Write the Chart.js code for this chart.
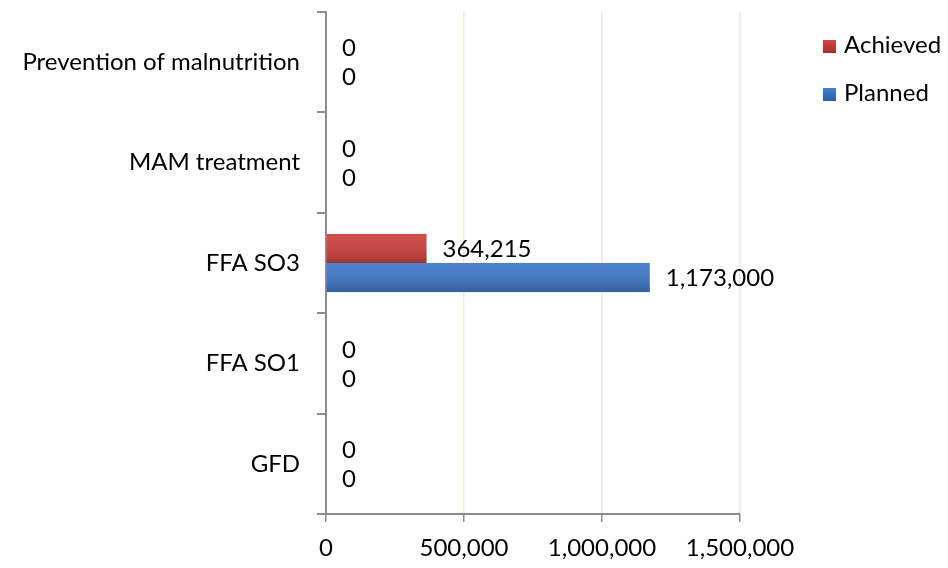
<!DOCTYPE html>
<html>
<head>
<meta charset="utf-8">
<script src="https://cdn.jsdelivr.net/npm/chart.js@4"></script>
<style>
  html, body { margin: 0; padding: 0; background: #fff; }
  #wrap { position: relative; width: 948px; height: 568px; }
  #legend { position: absolute; left: 823px; top: 28px; font-family: Lato, "Open Sans", sans-serif; font-size: 24px; color: #000; }
  #legend div { height: 48px; line-height: 32px; white-space: nowrap; }
  #legend span { display: inline-block; width: 13px; height: 13px; margin-right: 8px; vertical-align: 0px; }
</style>
</head>
<body>
<div id="wrap">
  <canvas id="c" width="948" height="568"></canvas>
  <div id="legend">
    <div><span style="background:linear-gradient(#d44643,#a22f2d)"></span>Achieved</div>
    <div><span style="background:linear-gradient(#4181d2,#2c5c9c)"></span>Planned</div>
  </div>
</div>
<script>
const categories = ['Prevention of malnutrition', 'MAM treatment', 'FFA SO3', 'FFA SO1', 'GFD'];
const achieved = [0, 0, 364215, 0, 0];
const planned = [0, 0, 1173000, 0, 0];
const xTicks = [0, 500000, 1000000, 1500000];

const FONT = 'Lato, "Open Sans", sans-serif';

// darken the lower part of each bar, like the original's shading
const barShading = {
  id: 'barShading',
  afterDatasetsDraw(chart) {
    const ctx = chart.ctx;
    ctx.save();
    chart.data.datasets.forEach((ds, di) => {
      chart.getDatasetMeta(di).data.forEach(bar => {
        const w = bar.x - bar.base;
        if (w <= 0) return;
        const top = bar.y - bar.height / 2;
        const g = ctx.createLinearGradient(0, top, 0, top + bar.height);
        g.addColorStop(0, 'rgba(255,255,255,0.06)');
        g.addColorStop(1, 'rgba(0,0,0,0.22)');
        ctx.fillStyle = g;
        ctx.fillRect(bar.base, top, w, bar.height);
      });
    });
    ctx.restore();
  }
};

const valueLabels = {
  id: 'valueLabels',
  afterDatasetsDraw(chart) {
    const ctx = chart.ctx;
    ctx.save();
    ctx.font = '24px ' + FONT;
    ctx.fillStyle = '#000';
    ctx.textAlign = 'left';
    ctx.textBaseline = 'middle';
    chart.data.datasets.forEach((ds, di) => {
      chart.getDatasetMeta(di).data.forEach((bar, i) => {
        ctx.fillText(ds.data[i].toLocaleString('en-US'), bar.x + 16, bar.y + 1);
      });
    });
    ctx.restore();
  }
};

new Chart(document.getElementById('c'), {
  type: 'bar',
  data: {
    labels: categories,
    datasets: [
      { label: 'Achieved', data: achieved, backgroundColor: '#cd403d' },
      { label: 'Planned', data: planned, backgroundColor: '#3d79c8' }
    ]
  },
  options: {
    indexAxis: 'y',
    responsive: false,
    animation: false,
    layout: { padding: { top: 12, right: 208, bottom: 0, left: 0 } },
    datasets: { bar: { barPercentage: 1, categoryPercentage: 0.58 } },
    plugins: { legend: { display: false }, tooltip: { enabled: false } },
    scales: {
      x: {
        min: 0,
        max: 1500000,
        afterBuildTicks(axis) { axis.ticks = xTicks.map(v => ({ value: v })); },
        afterFit(axis) { axis.height = 54; },
        border: { color: '#8c8c8c', width: 2 },
        grid: {
          color: ctx => ctx.index === 0 ? '#8c8c8c' : '#ece8d9',
          lineWidth: 1.5,
          tickColor: '#8c8c8c',
          tickLength: 8
        },
        ticks: {
          color: '#000',
          font: { family: FONT, size: 24 },
          padding: 12,
          maxRotation: 0,
          callback: v => v.toLocaleString('en-US')
        }
      },
      y: {
        afterFit(axis) {
          axis.width = 326;
          axis.paddingTop = 0;
          axis.paddingBottom = 0;
        },
        border: { color: '#8c8c8c', width: 2 },
        grid: {
          offset: true,
          drawOnChartArea: false,
          tickColor: '#8c8c8c',
          tickLength: 9,
          lineWidth: 2
        },
        ticks: {
          color: '#000',
          font: { family: FONT, size: 24 },
          padding: 17
        }
      }
    }
  },
  plugins: [barShading, valueLabels]
});
</script>
</body>
</html>
